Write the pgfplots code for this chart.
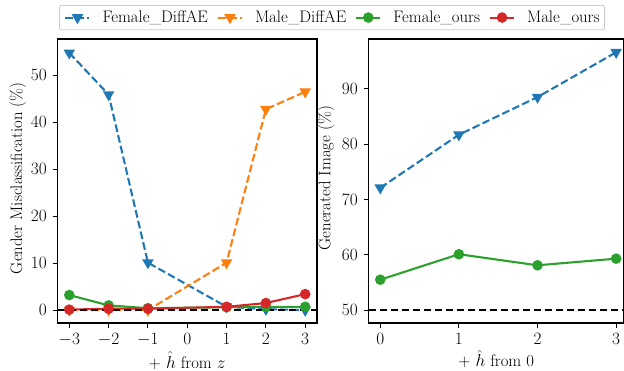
\documentclass[border=0pt]{standalone}
\usepackage{fontspec}
\usepackage{pgfplots}
\pgfplotsset{compat=1.18}
\definecolor{tblue}{HTML}{1F77B4}
\definecolor{torange}{HTML}{FF7F0E}
\definecolor{tgreen}{HTML}{2CA02C}
\definecolor{tred}{HTML}{D62728}
\tikzset{mpldash/.style={dash pattern=on 7.7pt off 3.3pt}}
\pgfplotsset{
  myaxis/.style={
    scale only axis,
    height=284pt,
    axis line style={line width=1.1pt},
    tick align=outside, tick pos=left,
    major tick length=4.9pt,
    every tick/.style={black, line width=1.1pt},
    tick label style={font=\fontsize{16.7}{20}\selectfont},
    label style={font=\fontsize{16.7}{20}\selectfont},
    xlabel style={yshift=6pt},
    clip=false,
    anchor=south west,
    every axis plot/.append style={line width=2.08pt},
  },
  dae/.style={mpldash, mark=triangle*, mark size=4.6pt, mark options={solid, rotate=180}},
  ours/.style={solid, mark=*, mark size=4.2pt, mark options={solid}},
}
\begin{document}
\fontsize{16.7}{20}\selectfont
\begin{tikzpicture}
\begin{axis}[myaxis,
  at={(57.5pt,47pt)}, width=259.5pt,
  xmin=-3.3, xmax=3.3, ymin=-2.75, ymax=57.75,
  xtick={-3,-2,-1,0,1,2,3}, ytick={0,10,20,30,40,50},
  xlabel={+ $\hat{h}$ from $z$},
  ylabel={Gender Misclassification (\%)},
  ylabel style={at={(axis description cs:-0.152,0.51)}, anchor=center},
  legend columns=4,
  legend cell align=left,
  legend style={at={(0.006,1.1197)}, anchor=north west,
    draw=black!20, rounded corners=2pt, fill=white, line width=0.8pt,
    inner xsep=5pt, inner ysep=3pt,
    nodes={inner xsep=0pt, inner ysep=2pt},
    /tikz/every odd column/.append style={column sep=12pt},
    /tikz/every even column/.append style={column sep=9pt},
    font=\fontsize{16.7}{20}\selectfont},
  legend image code/.code={\draw[#1, mark repeat=2, mark phase=2] plot coordinates {(0pt,0pt) (12pt,0pt) (24pt,0pt)};},
]
\addplot[tblue, dae] coordinates {(-3,54.8) (-2,45.9) (-1,10.1) (1,0.7) (2,0.2) (3,0.0)};
\addplot[torange, dae] coordinates {(-3,0.0) (-2,0.0) (-1,0.0) (1,10.1) (2,42.8) (3,46.5)};
\addplot[tgreen, ours] coordinates {(-3,3.2) (-2,1.0) (-1,0.4) (1,0.6) (2,0.7) (3,0.7)};
\addplot[tred, ours] coordinates {(-3,0.1) (-2,0.3) (-1,0.3) (1,0.7) (2,1.5) (3,3.4)};
\addplot[black, mpldash, line width=1.5pt, mark=none, forget plot] coordinates {(-3.3,0) (3.3,0)};
\legend{Female\_DiffAE, Male\_DiffAE, Female\_ours, Male\_ours}
\end{axis}
\begin{axis}[myaxis,
  at={(368.5pt,47pt)}, width=255.5pt,
  xmin=-0.15, xmax=3.1, ymin=47.67, ymax=99.0,
  xtick={0,1,2,3}, ytick={50,60,70,80,90},
  xlabel={+ $\hat{h}$ from 0},
  ylabel={Generated Image (\%)},
  ylabel style={at={(axis description cs:-0.166,0.51)}, anchor=center},
]
\addplot[tblue, dae] coordinates {(0,72.1) (1,81.7) (2,88.5) (3,96.6)};
\addplot[tgreen, ours] coordinates {(0,55.5) (1,60.1) (2,58.1) (3,59.3)};
\addplot[black, mpldash, line width=1.5pt, mark=none] coordinates {(-0.15,50) (3.1,50)};
\end{axis}
\pgfresetboundingbox
\path[use as bounding box] (0pt,0pt) rectangle (624pt,370pt);
\end{tikzpicture}
\end{document}
